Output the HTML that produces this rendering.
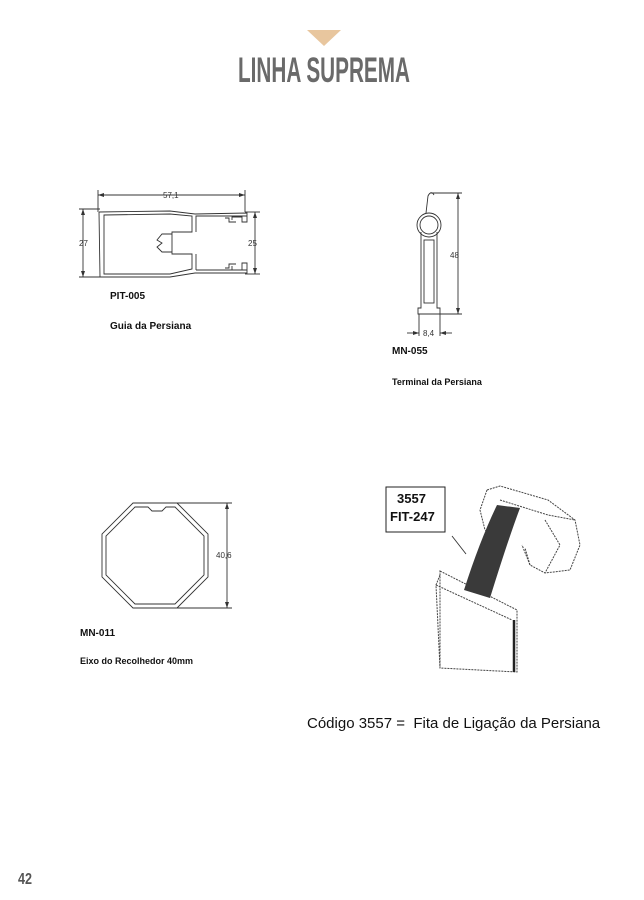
<!DOCTYPE html>
<html><head><meta charset="utf-8"><style>
html,body{margin:0;padding:0;background:#fff}
body{width:644px;height:900px;position:relative;overflow:hidden;font-family:"Liberation Sans",sans-serif}
.t{position:absolute;font-weight:bold;color:#111;white-space:nowrap}
</style></head><body>
<svg width="644" height="900" style="position:absolute;left:0;top:0" xmlns="http://www.w3.org/2000/svg">
<polygon points="307,30 341,30 324,46" fill="#e8c69e"/>
<text x="238" y="82" font-family="Liberation Sans" font-weight="bold" font-size="35" fill="#6a6a6a" textLength="172" lengthAdjust="spacingAndGlyphs">LINHA SUPREMA</text>
<text x="18" y="884" font-family="Liberation Sans" font-weight="bold" font-size="16" fill="#555" textLength="14" lengthAdjust="spacingAndGlyphs">42</text>
<g fill="none" stroke="#333" stroke-width="0.9">
<line x1="98" y1="195" x2="245" y2="195"/><line x1="98" y1="190" x2="98" y2="212"/><line x1="245" y1="190" x2="245" y2="212"/>
<line x1="83" y1="209" x2="83" y2="277"/><line x1="79" y1="209" x2="100" y2="209"/><line x1="79" y1="277" x2="100" y2="277"/>
<line x1="255" y1="212" x2="255" y2="274"/><line x1="245" y1="212" x2="260" y2="212"/><line x1="245" y1="274" x2="260" y2="274"/>
<path d="M99,212 L100,277 L170,277 L195,273 L247,273 L247,263 L242,263 L242,270 L232,270 L232,266 M99,212 L170,211 L195,214 L247,213 L247,222 L242,222 L242,217 L232,217 L232,220"/>
<path d="M104,215 L104,274 L170,274 L192,269 L192,254 L172,254 L172,232 L192,232 L192,216 L170,214 Z"/>
<path d="M196,270 L196,254 M196,232 L196,216 L247,216 M196,270 L247,270"/>
<path d="M172,234 L162,234 L157,240 L162,243 L157,247 L162,252 L172,252"/>
<path d="M225,218 L229,218 L229,222 L236,222 M225,268 L229,268 L229,264 L236,264"/>
<line x1="430" y1="193" x2="462" y2="193"/><line x1="440" y1="314" x2="462" y2="314"/><line x1="458" y1="193" x2="458" y2="314"/>
<circle cx="429" cy="225" r="12"/><circle cx="429" cy="225" r="9"/>
<path d="M426,213 L428,196 Q431,190 434,195"/>
<path d="M421,232 L421,308 L418,308 L418,314 L440,314 L440,308 L437,308 L437,232"/>
<rect x="424" y="240" width="10" height="63"/>
<line x1="419" y1="314" x2="419" y2="336"/><line x1="440" y1="314" x2="440" y2="336"/>
<line x1="407" y1="333" x2="419" y2="333"/><line x1="440" y1="333" x2="452" y2="333"/>
<polygon points="133,503 177,503 208,534 208,577 177,608 133,608 102,577 102,534"/>
<polygon points="135,507 148,507 152,511 162,511 166,507 175,507 204,536 204,575 175,604 135,604 106,575 106,536"/>
<line x1="177" y1="503" x2="232" y2="503"/><line x1="177" y1="608" x2="232" y2="608"/><line x1="227" y1="503" x2="227" y2="608"/>
<rect x="386" y="487" width="59" height="45" stroke="#222" stroke-width="1"/>
<line x1="452" y1="536" x2="466" y2="554"/>
</g>
<g fill="#333">
<polygon points="98,195 104,193 104,197"/><polygon points="245,195 239,193 239,197"/>
<polygon points="83,209 81,215 85,215"/><polygon points="83,277 81,271 85,271"/>
<polygon points="255,212 253,218 257,218"/><polygon points="255,274 253,268 257,268"/>
<polygon points="458,193 456,199 460,199"/><polygon points="458,314 456,308 460,308"/>
<polygon points="419,333 413,331 413,335"/><polygon points="440,333 446,331 446,335"/>
<polygon points="227,503 225,509 229,509"/><polygon points="227,608 225,602 229,602"/>
</g>
<g font-family="Liberation Sans" font-size="8" fill="#333">
<text x="163" y="198">57,1</text>
<text x="79" y="246">27</text><text x="248" y="246">25</text>
<text x="450" y="258">48</text><text x="423" y="336">8,4</text>
<text x="216" y="558">40,6</text>
</g>
<g fill="none" stroke="#444" stroke-width="1" stroke-dasharray="2,1">
<path d="M487,490 L500,486 L548,500 L575,520 L580,545 L570,570 L545,573 L530,565 L522,545"/>
<path d="M487,490 L480,510 L485,530 L500,540 M530,565 L525,548 M545,520 L560,545 L545,573 M500,500 L548,515 L575,520"/>
<path d="M440,571 L517,610 L517,672 L440,668 Z"/>
<path d="M436,585 L512,620"/>
<path d="M440,575 L436,585 L440,668"/>
</g>
<path d="M497,505 L520,508 Q508,540 490,598 L464,590 Q480,540 497,505 Z" fill="#3a3a3a"/>
<line x1="514" y1="620" x2="514" y2="672" stroke="#222" stroke-width="2.5"/>
</svg>
<div class="t" style="left:110px;top:291px;font-size:10px">PIT-005</div>
<div class="t" style="left:110px;top:321px;font-size:10px">Guia da Persiana</div>
<div class="t" style="left:392px;top:346px;font-size:10px">MN-055</div>
<div class="t" style="left:392px;top:377px;font-size:9px">Terminal da Persiana</div>
<div class="t" style="left:80px;top:628px;font-size:10px">MN-011</div>
<div class="t" style="left:80px;top:656px;font-size:9px">Eixo do Recolhedor 40mm</div>
<div class="t" style="left:397px;top:490px;font-size:13px;line-height:18px">3557<br><span style="margin-left:-7px">FIT-247</span></div>
<div class="t" style="left:307px;top:715px;font-size:15px;font-weight:normal">Código 3557 =&nbsp; Fita de Ligação da Persiana</div>
</body></html>
